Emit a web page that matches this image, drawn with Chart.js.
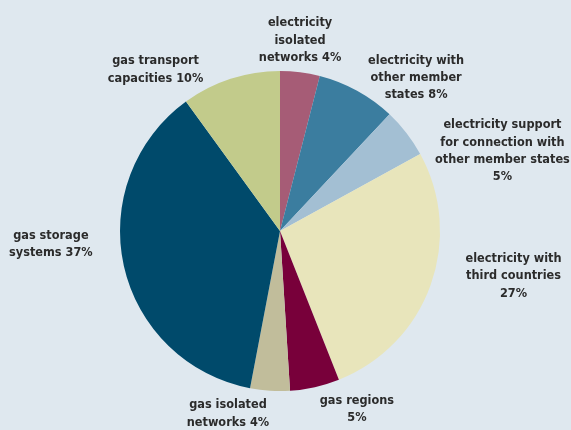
<!DOCTYPE html>
<html>
<head>
<meta charset="utf-8">
<script src="https://cdn.jsdelivr.net/npm/chart.js@4"></script>
<style>
  html, body { margin: 0; padding: 0; background: #dfe8ef; }
  #wrap { width: 571px; height: 430px; }
</style>
</head>
<body>
<div id="wrap"><canvas id="chart"></canvas></div>
<script>
const categories = [
  ['electricity', 'isolated', 'networks 4%'],
  ['electricity with', 'other member', 'states 8%'],
  ['electricity support', 'for connection with', 'other member states', '5%'],
  ['electricity with', 'third countries', '27%'],
  ['gas regions', '5%'],
  ['gas isolated', 'networks 4%'],
  ['gas storage', 'systems 37%'],
  ['gas transport', 'capacities 10%']
];
const shares = [4, 8, 5, 27, 5, 4, 37, 10];
const colors = ['#a65c76', '#3b7d9f', '#a3bfd3', '#e8e5bb', '#78003a', '#c1bd9b', '#004a6b', '#c2cb8b'];

// nudge of each label from the outer midpoint of its slice
const labelNudge = [[0, -32], [59, -13], [96, 18], [83, -9], [42, 22], [-42, 23], [-73, -22], [-75, -9]];

const sliceLabels = {
  id: 'sliceLabels',
  afterDatasetsDraw(chart) {
    const ctx = chart.ctx;
    const arcs = chart.getDatasetMeta(0).data;
    ctx.save();
    ctx.font = 'bold 12.6px "DejaVu Sans Condensed", "DejaVu Sans", sans-serif';
    ctx.fillStyle = '#2b2b2b';
    ctx.textAlign = 'center';
    ctx.textBaseline = 'middle';
    const lineH = 17.3;
    arcs.forEach((arc, i) => {
      const mid = (arc.startAngle + arc.endAngle) / 2;
      const px = arc.x + Math.cos(mid) * arc.outerRadius + labelNudge[i][0];
      const py = arc.y + Math.sin(mid) * arc.outerRadius + labelNudge[i][1];
      const lines = categories[i];
      const top = py - (lines.length - 1) * lineH / 2;
      lines.forEach((line, j) => ctx.fillText(line, px, top + j * lineH));
    });
    ctx.restore();
  }
};

new Chart(document.getElementById('chart'), {
  type: 'pie',
  data: {
    labels: categories.map(l => l.join(' ')),
    datasets: [{
      data: shares,
      backgroundColor: colors,
      borderWidth: 0
    }]
  },
  options: {
    responsive: true,
    maintainAspectRatio: false,
    animation: false,
    layout: { padding: { left: 120, right: 131, top: 71, bottom: 39 } },
    plugins: {
      legend: { display: false },
      tooltip: { enabled: false }
    },
    events: []
  },
  plugins: [sliceLabels]
});
</script>
</body>
</html>
